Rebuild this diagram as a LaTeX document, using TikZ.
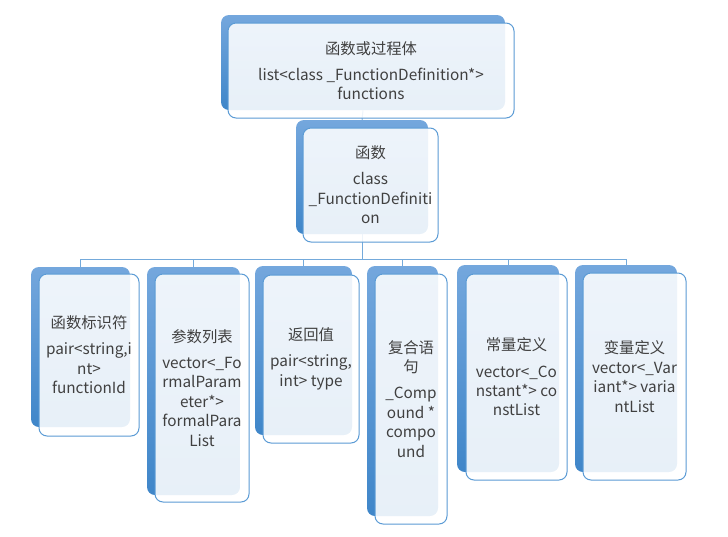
\documentclass[tikz,border=0pt]{standalone}
\usepackage{fontspec}
\setmainfont{Noto Sans CJK SC}
\usepackage{tikz}

\definecolor{boxline}{HTML}{5B9BD5}
\definecolor{shadetop}{HTML}{74A7DD}
\definecolor{shadebot}{HTML}{3F86C9}
\definecolor{txtgray}{HTML}{404040}

\tikzset{
  backbox/.style 2 args={rounded corners=6pt, top color=shadetop, bottom color=shadebot,
    draw=none, inner sep=0pt, minimum width=#1*0.75pt, minimum height=#2*0.75pt},
  frontbox/.style 2 args={rounded corners=6pt, draw=boxline, line width=0.75pt,
    fill=white, fill opacity=0.88, text opacity=1, text=txtgray, align=center,
    inner sep=0pt, font=\fontsize{11.5}{14.6}\selectfont,
    minimum width=#1*0.75pt, minimum height=#2*0.75pt},
  link/.style={draw=boxline!85, line width=0.75pt}
}

\begin{document}
\begin{tikzpicture}[x=0.75pt,y=0.75pt,yscale=-1]
\useasboundingbox (0,0) rectangle (728,536);

%Shape: back shapes
\node [backbox={284}{95}]  (topb) at (363,62.5) {};
\node [backbox={132}{114}] (midb) at (362,177) {};
\node [backbox={99}{160}]  (k1b) at (80.5,347) {};
\node [backbox={93}{228}]  (k2b) at (193.5,381) {};
\node [backbox={97}{169}]  (k3b) at (303.5,350.5) {};
\node [backbox={71}{250}]  (k4b) at (402.5,391) {};
\node [backbox={102}{207}] (k5b) at (508,368.5) {};
\node [backbox={102}{207}] (k6b) at (626,368.5) {};

%Straight Lines: tree links
\coordinate (bus) at (362,259);
\draw [link] (topb.south) -- (midb.north);
\draw [link] (midb.south) -- (bus);
\foreach \kid in {k1b,k2b,k3b,k4b,k5b,k6b}
  \draw [link] (bus) -| (\kid.north);

% Text Node
\node [frontbox={286}{95}] (topf) at (371,70.5)
  {函数或过程体\\[5pt] list<class \_FunctionDefinition*>\\ functions};
% Text Node
\node [frontbox={135}{114}] (midf) at (370.5,185)
  {函数\\[5pt] class\\ \_FunctionDefiniti\\ on};
% Text Node
\node [frontbox={100}{162}] (k1f) at (89,355)
  {函数标识符\\[5pt] pair<string,i\\ nt>\\ functionId};
% Text Node
\node [frontbox={94}{228}] (k2f) at (202,388)
  {参数列表\\[5pt] vector<\_Fo\\ rmalParam\\ eter*>\\ formalPara\\ List};
% Text Node
\node [frontbox={96}{168}] (k3f) at (311,359)
  {返回值\\[5pt] pair<string,\\ int> type};
% Text Node
\node [frontbox={72}{250}] (k4f) at (411,399)
  {复合语\\ 句\\[5pt] \_Comp\\ ound *\\ compo\\ und};
% Text Node
\node [frontbox={101}{206}] (k5f) at (516.5,377)
  {常量定义\\[5pt] vector<\_Co\\ nstant*> co\\ nstList};
% Text Node
\node [frontbox={103}{207}] (k6f) at (634.5,376.5)
  {变量定义\\ vector<\_Var\\ iant*> varia\\ ntList};

\end{tikzpicture}
\end{document}
